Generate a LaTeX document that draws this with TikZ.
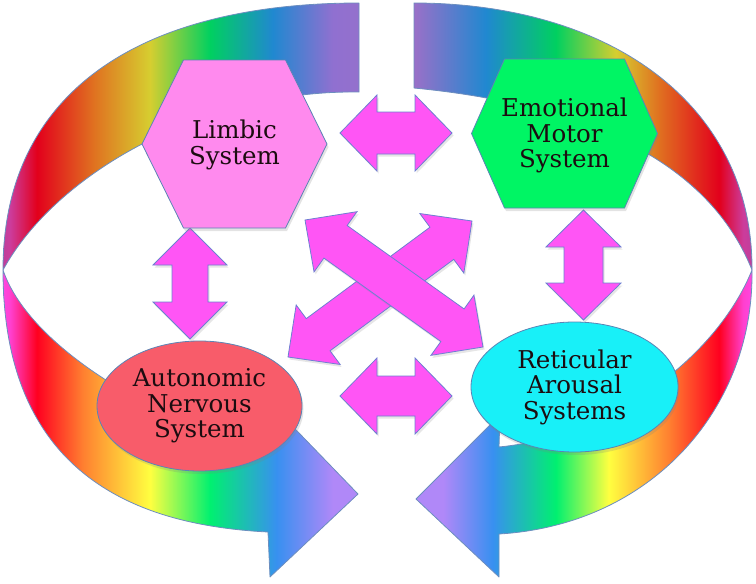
\documentclass[tikz,border=0pt]{standalone}
\usepackage{fontspec}
\setmainfont{DejaVu Serif}
\usetikzlibrary{calc,shapes.geometric,shadows}

% ribbon colours
\definecolor{lt0}{HTML}{B8409C}\definecolor{lt1}{HTML}{CC3C9C}\definecolor{lt2}{HTML}{E2001C}
\definecolor{lt3}{HTML}{E07020}\definecolor{lt4}{HTML}{D6CE30}\definecolor{lt5}{HTML}{00D060}
\definecolor{lt6}{HTML}{2088D0}\definecolor{lt7}{HTML}{9070D0}\definecolor{lt8}{HTML}{9A70C8}
\definecolor{lb0}{HTML}{FF48E8}\definecolor{lb1}{HTML}{FF40D0}\definecolor{lb2}{HTML}{FF0020}
\definecolor{lb3}{HTML}{FF8030}\definecolor{lb4}{HTML}{FFFF40}\definecolor{lb5}{HTML}{00F070}
\definecolor{lb6}{HTML}{3890F0}\definecolor{lb7}{HTML}{B088F8}

\pgfdeclarehorizontalshading{ltop}{100bp}{color(0bp)=(lt0); color(25bp)=(lt0); color(26.25bp)=(lt1);
 color(29.6bp)=(lt2); color(36.6bp)=(lt3); color(43.75bp)=(lt4); color(51.25bp)=(lt5);
 color(59.1bp)=(lt6); color(66.6bp)=(lt7); color(75bp)=(lt8); color(100bp)=(lt8)}
\pgfdeclarehorizontalshading{lbot}{100bp}{color(0bp)=(lb0); color(25bp)=(lb0); color(26.25bp)=(lb1);
 color(29.6bp)=(lb2); color(35.4bp)=(lb3); color(43.75bp)=(lb4); color(51.25bp)=(lb5);
 color(59.6bp)=(lb6); color(66.6bp)=(lb7); color(75bp)=(lb7); color(100bp)=(lb7)}
\pgfdeclarehorizontalshading{rtop}{100bp}{color(0bp)=(lt8); color(32.25bp)=(lt8); color(41.25bp)=(lt6);
 color(50bp)=(lt5); color(57.5bp)=(lt4); color(62.9bp)=(lt3); color(70.4bp)=(lt2);
 color(73.4bp)=(lt1); color(75bp)=(lt0); color(100bp)=(lt0)}
\pgfdeclarehorizontalshading{rbot}{100bp}{color(0bp)=(lb7); color(35.9bp)=(lb7); color(42.1bp)=(lb6);
 color(50bp)=(lb5); color(56.6bp)=(lb4); color(64.1bp)=(lb3); color(70.4bp)=(lb2);
 color(73.4bp)=(lb1); color(75bp)=(lb0); color(100bp)=(lb0)}

\definecolor{bandedge}{HTML}{6C8EBF}
\definecolor{arrowpink}{HTML}{FF55F5}
\definecolor{arrowedge}{HTML}{6E7FD2}
\definecolor{limfill}{HTML}{FF8AEE}
\definecolor{emofill}{HTML}{00F564}
\definecolor{ansfill}{HTML}{F85C6A}
\definecolor{rasfill}{HTML}{18F0F8}
\definecolor{nodeedge}{HTML}{5B84B5}
\definecolor{txtc}{HTML}{1C0C10}

\tikzset{
  bandline/.style={draw=bandedge, line width=0.8pt, line join=round},
  pinkarrow/.style={fill=arrowpink, draw=arrowedge, line width=0.8pt, line join=miter,
    drop shadow={opacity=0.2, shadow xshift=1.5pt, shadow yshift=-2.5pt}},
  shapebox/.style={draw=nodeedge, line width=0.8pt,
    drop shadow={opacity=0.22, shadow xshift=1.5pt, shadow yshift=-3pt}},
  lbl/.style={align=center, font=\fontsize{24.5}{25.5}\selectfont, text=txtc, inner sep=0pt},
  ovalbox/.style={shapebox, ellipse, inner sep=0pt, align=center,
    font=\fontsize{24.5}{25.5}\selectfont, text=txtc}
}

\newcommand\ltoppath{(359,3) .. controls (150,3) and (3,85) .. (3,270) .. controls (55,175) and (200,90) .. (359,92) -- cycle}
\newcommand\lbotpath{(3,270) .. controls (3,470) and (130,525) .. (268,532) -- (270,577) -- (358,494) -- (272,405) -- (268,445) .. controls (170,430) and (30,350) .. (3,270) -- cycle}
\newcommand\rtoppath{(414,3) .. controls (610,3) and (753,105) .. (752,270) .. controls (722,195) and (640,110) .. (414,88) -- cycle}
\newcommand\rbotpath{(752,270) .. controls (754,410) and (650,525) .. (499,534) -- (499,577) -- (416,499) -- (500,415) -- (499,447) .. controls (620,435) and (720,350) .. (752,270) -- cycle}

\newcommand\dblarrow[5]{%
  \draw[pinkarrow] (#1)
  -- ($(#1)!#3!(#2)!#4!90:(#2)$)
  -- ($(#1)!#3!(#2)!#5!90:(#2)$)
  -- ($(#2)!#3!(#1)!#5!-90:(#1)$)
  -- ($(#2)!#3!(#1)!#4!-90:(#1)$)
  -- (#2)
  -- ($(#2)!#3!(#1)!#4!90:(#1)$)
  -- ($(#2)!#3!(#1)!#5!90:(#1)$)
  -- ($(#1)!#3!(#2)!#5!-90:(#2)$)
  -- ($(#1)!#3!(#2)!#4!-90:(#2)$)
  -- cycle;}

\begin{document}
\begin{tikzpicture}[x=1pt,y=-1pt]
\useasboundingbox (0,0) rectangle (756,584);

% ribbons
\begin{scope}\clip \ltoppath; \shade[shading=ltop] (0,0) rectangle (400,584); \end{scope}
\draw[bandline] \ltoppath;
\begin{scope}\clip \rtoppath; \shade[shading=rtop] (356,0) rectangle (756,584); \end{scope}
\draw[bandline] \rtoppath;
\begin{scope}\clip \lbotpath; \shade[shading=lbot] (0,0) rectangle (400,584); \end{scope}
\draw[bandline] \lbotpath;
\begin{scope}\clip \rbotpath; \shade[shading=rbot] (356,0) rectangle (756,584); \end{scope}
\draw[bandline] \rbotpath;

% arrow end points
\coordinate (ht1) at (340,133); \coordinate (ht2) at (452,133);
\coordinate (hb1) at (340,396); \coordinate (hb2) at (452,396);
\coordinate (vl1) at (190,228); \coordinate (vl2) at (190,339);
\coordinate (vr1) at (583.5,210); \coordinate (vr2) at (583.5,320);
\coordinate (xa1) at (305,220); \coordinate (xa2) at (483,347);
\coordinate (xb1) at (288,357); \coordinate (xb2) at (472,221);

\dblarrow{xb1}{xb2}{37.5pt}{37pt}{20pt}
\dblarrow{xa1}{xa2}{37.5pt}{37pt}{20pt}
\dblarrow{ht1}{ht2}{37pt}{38pt}{21pt}
\dblarrow{hb1}{hb2}{37pt}{38pt}{20pt}
\dblarrow{vl1}{vl2}{37pt}{37pt}{18pt}
\dblarrow{vr1}{vr2}{37pt}{37.5pt}{19.5pt}

% hexagons
\coordinate (limc) at (234.5,144);
\draw[shapebox, fill=limfill] ($(limc)+(-51,-84)$) -- ($(limc)+(51,-84)$) -- ($(limc)+(92.5,0)$)
  -- ($(limc)+(51,84)$) -- ($(limc)+(-51,84)$) -- ($(limc)+(-92.5,0)$) -- cycle;
\node[lbl] (lim) at ($(limc)+(0,1)$) {Limbic\\System};

\coordinate (emoc) at (564.5,133.5);
\draw[shapebox, fill=emofill] ($(emoc)+(-60,-74.5)$) -- ($(emoc)+(60,-74.5)$) -- ($(emoc)+(93,0)$)
  -- ($(emoc)+(60,74.5)$) -- ($(emoc)+(-60,74.5)$) -- ($(emoc)+(-93,0)$) -- cycle;
\node[lbl] (emo) at ($(emoc)+(0,2)$) {Emotional\\Motor\\System};

% ellipses
\node[ovalbox, fill=ansfill, minimum width=205pt, minimum height=130pt] (ans) at (199.5,406) {Autonomic\\Nervous\\System};
\node[ovalbox, fill=rasfill, minimum width=207pt, minimum height=130pt] (ras) at (574.5,387) {Reticular\\Arousal\\Systems};
\end{tikzpicture}
\end{document}
